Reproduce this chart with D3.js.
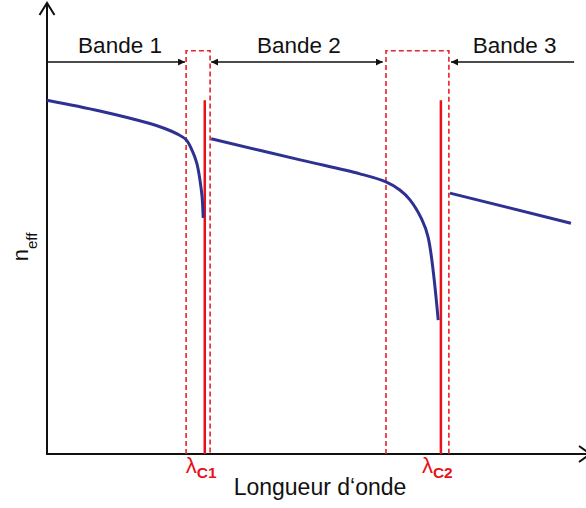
<!DOCTYPE html>
<html><head><meta charset="utf-8">
<script src="https://cdn.jsdelivr.net/npm/d3@7"></script>
<style>html,body{margin:0;padding:0;background:#fff;}svg{display:block;font-family:"Liberation Sans",Arial,sans-serif;}</style>
</head><body>
<script>
// ---- data (abstract units: wavelength 0..100, n_eff 0..100) ----
const bandLabels = ["Bande 1", "Bande 2", "Bande 3"];
const bandStart = [0, 30.8, 75.8];
const bandEnd = [25.9, 63.0, 98.9];
const bandHeadStart = [false, true, true];
const bandHeadEnd = [true, true, false];
const gapLeft = [26.1, 63.6];
const gapRight = [30.6, 75.4];
const cutoffX = [29.6, 73.9];
const cutoffSub = ["C1", "C2"];
const gapTop = 89.8, bandLevel = 87.3, cutoffTop = 78.8;

const seg1X = [0, 9.9, 19.3, 22.1, 24.4, 26.1, 27.2, 28.1, 28.7, 29.1, 29.3];
const seg1Y = [78.8, 76.4, 73.6, 72.5, 71.3, 70.0, 67.7, 64.8, 61.0, 57.2, 52.6];
const seg2X = [30.8, 47.5, 58.7, 63.6, 66.2, 68.1, 70.3, 71.5, 73.4];
const seg2Y = [70.2, 65.5, 62.4, 60.6, 58.8, 56.6, 52.3, 48.3, 29.8];
const seg3X = [75.6, 98.3];
const seg3Y = [58.1, 51.4];

const xTitle = "Longueur d\u2018onde";
const yTitle = "n", yTitleSub = "eff";

// ---- layout ----
const W = 586, H = 508;
const x = d3.scaleLinear().domain([0, 100]).range([47, 580]);
const y = d3.scaleLinear().domain([0, 100]).range([454, 5]);
const RED = "#e8101a", DRED = "#e3242c", BLUE = "#2e3192", BLACK = "#111";

const svg = d3.select("body").append("svg").attr("width", W).attr("height", H);
const defs = svg.append("defs");
function tri(id, rev) {
  const m = defs.append("marker").attr("id", id).attr("viewBox", "0 0 10 10")
    .attr("refX", rev ? 0 : 10).attr("refY", 5).attr("markerWidth", 7).attr("markerHeight", 7)
    .attr("markerUnits", "userSpaceOnUse").attr("orient", "auto");
  m.append("path").attr("d", rev ? "M10,0L0,5L10,10Z" : "M0,0L10,5L0,10Z").attr("fill", BLACK);
}
tri("ah", false);
tri("ahs", true);

// axes
const x0 = x(0), y0 = y(0);
svg.append("line").attr("x1", x0).attr("y1", y0).attr("x2", x0).attr("y2", 3)
  .attr("stroke", BLACK).attr("stroke-width", 2);
svg.append("path").attr("d", `M${x0 - 7.5},15L${x0},3L${x0 + 7.5},15`)
  .attr("fill", "none").attr("stroke", BLACK).attr("stroke-width", 2);
svg.append("line").attr("x1", x0 - 1).attr("y1", y0).attr("x2", 590).attr("y2", y0)
  .attr("stroke", BLACK).attr("stroke-width", 2);
svg.append("path").attr("d", `M579,${y0 - 8}L590,${y0}L579,${y0 + 8}`)
  .attr("fill", "none").attr("stroke", BLACK).attr("stroke-width", 2);

// gap boxes (dashed)
gapLeft.forEach((gl, i) => {
  const gr = gapRight[i];
  svg.append("path")
    .attr("d", `M${x(gl)},${y0}L${x(gl)},${y(gapTop)}L${x(gr)},${y(gapTop)}L${x(gr)},${y0}`)
    .attr("fill", "none").attr("stroke", DRED).attr("stroke-width", 1.6)
    .attr("stroke-dasharray", "5,3");
});

// band arrows
bandLabels.forEach((lab, i) => {
  const ln = svg.append("line").attr("x1", x(bandStart[i])).attr("x2", x(bandEnd[i]))
    .attr("y1", y(bandLevel)).attr("y2", y(bandLevel))
    .attr("stroke", BLACK).attr("stroke-width", 1.4);
  if (bandHeadStart[i]) ln.attr("marker-start", "url(#ahs)");
  if (bandHeadEnd[i]) ln.attr("marker-end", "url(#ah)");
  svg.append("text").attr("x", (x(bandStart[i]) + x(bandEnd[i])) / 2 + (i === 0 ? 4 : 2))
    .attr("y", 52.5).attr("text-anchor", "middle").attr("font-size", 22.5)
    .attr("fill", BLACK).text(lab);
});

// cutoff lines
cutoffX.forEach((cx, i) => {
  svg.append("line").attr("x1", x(cx)).attr("x2", x(cx)).attr("y1", y(cutoffTop)).attr("y2", y0)
    .attr("stroke", RED).attr("stroke-width", 2.5);
  const t = svg.append("text").attr("x", x(cx) - 19).attr("y", 473).attr("fill", RED)
    .attr("font-size", 22);
  t.append("tspan").text("\u03bb");
  t.append("tspan").attr("dy", 5).attr("font-size", 15.5).attr("font-weight", "bold")
    .attr("dx", 0).text(cutoffSub[i]);
});

// curves
const line = d3.line().x(d => x(d[0])).y(d => y(d[1])).curve(d3.curveCatmullRom.alpha(0.5));
[[seg1X, seg1Y], [seg2X, seg2Y], [seg3X, seg3Y]].forEach(([xs, ys]) => {
  svg.append("path").datum(xs.map((v, i) => [v, ys[i]])).attr("d", line)
    .attr("fill", "none").attr("stroke", BLUE).attr("stroke-width", 3)
    .attr("stroke-linecap", "butt");
});

// titles
svg.append("text").attr("x", 320).attr("y", 495).attr("text-anchor", "middle")
  .attr("font-size", 23).attr("fill", BLACK).text(xTitle);
const yt = svg.append("text").attr("transform", "translate(28,247) rotate(-90)")
  .attr("text-anchor", "middle").attr("font-size", 22).attr("fill", BLACK);
yt.append("tspan").text(yTitle);
yt.append("tspan").attr("dy", 9).attr("font-size", 15).text(yTitleSub);
</script>
</body></html>
